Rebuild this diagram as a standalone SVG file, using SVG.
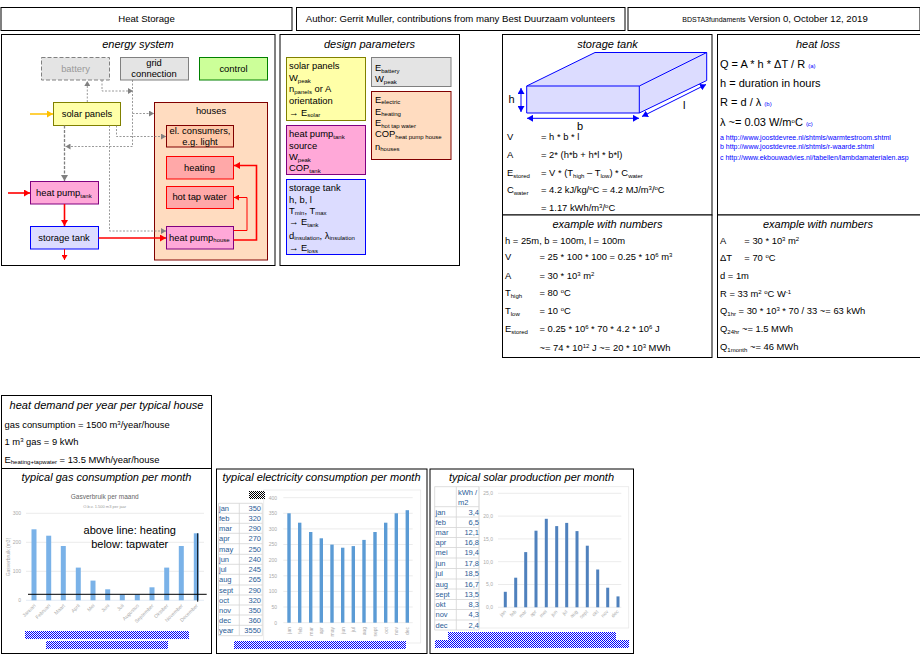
<svg xmlns="http://www.w3.org/2000/svg" width="920" height="660" viewBox="0 0 920 660">
<style>
text{font-family:"Liberation Sans",Arial,sans-serif;font-size:9.4px;fill:#000}
.c{text-anchor:middle}.r{text-anchor:end}
.t{font-style:italic;font-size:11px;text-anchor:middle}
.f{font-size:9.4px}
.big{font-size:11px}
.p{fill:#fff;stroke:#000;stroke-width:1}
.sm{font-size:6px}
.hd{font-size:9.6px;text-anchor:middle}
.yl{fill:#ffffa8;stroke:#808000}.pk{fill:#ffa8d8;stroke:#800080}.bl{fill:#dcdcff;stroke:#00f}
.or{fill:#ffdcc0;stroke:#800000}.el{fill:#ffc8a8;stroke:#800000}.rd{fill:#ffa8a8;stroke:#f00}
.gy{fill:#e4e4e4;stroke:#808080}.gn{fill:#ccff99;stroke:#008000}
.g1{fill:none;stroke:#808080;stroke-width:.8;stroke-dasharray:2 1.5}
.g2{fill:none;stroke:#808080;stroke-width:1.3;stroke-dasharray:3 1.5}
.r1{fill:none;stroke:#f00;stroke-width:1}.r2{fill:none;stroke:#f00;stroke-width:1.6}
.tb{font-size:7.5px;fill:#2b5c96}
.ax{font-size:5px;fill:#aaa}
.gr{stroke:#e6e6e6;stroke-width:.8}
.cell{fill:none;stroke:#d4d4d4;stroke-width:.8}
.link{font-size:6px;fill:#00f}
.url{font-size:7px;fill:#00f}
</style>
<defs>
<marker id="ag" markerUnits="userSpaceOnUse" markerWidth="6" markerHeight="6" refX="5" refY="3" orient="auto"><path d="M0 0L5 3L0 6Z" fill="#808080"/></marker>
<marker id="agb" markerUnits="userSpaceOnUse" markerWidth="7" markerHeight="7" refX="6" refY="3.5" orient="auto"><path d="M0 0L6 3.5L0 7Z" fill="#808080"/></marker>
<marker id="ar" markerUnits="userSpaceOnUse" markerWidth="6" markerHeight="6" refX="5" refY="3" orient="auto"><path d="M0 0L5 3L0 6Z" fill="#f00"/></marker>
<marker id="arb" markerUnits="userSpaceOnUse" markerWidth="7" markerHeight="7" refX="6" refY="3.5" orient="auto"><path d="M0 0L6 3.5L0 7Z" fill="#f00"/></marker>
<marker id="ay" markerUnits="userSpaceOnUse" markerWidth="7" markerHeight="7" refX="6" refY="3.5" orient="auto"><path d="M0 0L6 3.5L0 7Z" fill="#ffc000"/></marker>
<marker id="abs" markerUnits="userSpaceOnUse" markerWidth="7" markerHeight="7" refX="6" refY="3.5" orient="auto-start-reverse"><path d="M0 0L6 3.5L0 7Z" fill="#00f"/></marker>
<pattern id="cb" width="2" height="2" patternUnits="userSpaceOnUse"><rect width="2" height="2" fill="#fff"/><rect width="1" height="1" fill="#00f"/><rect x="1" y="1" width="1" height="1" fill="#00f"/></pattern>
<pattern id="ck" width="2" height="2" patternUnits="userSpaceOnUse"><rect width="2" height="2" fill="#fff"/><rect width="1" height="1" fill="#000"/><rect x="1" y="1" width="1" height="1" fill="#000"/></pattern>
</defs>

<g id="header">
<rect class="p" x="1" y="7.5" width="291" height="23"/><text class="hd" x="146.500" y="21.500">Heat Storage</text>
<rect class="p" x="296.500" y="7.500" width="328.500" height="23"/><text class="hd" x="460.500" y="21.500">Author: Gerrit Muller, contributions from many Best Duurzaam volunteers</text>
<rect class="p" x="628" y="7.500" width="292" height="23"/><text class="hd" x="775" y="21.500"><tspan font-size="7">BDSTA3fundaments</tspan> Version 0, October 12, 2019</text>
</g>

<g id="panel-energy">
<rect class="p" x="1.500" y="34.500" width="273.500" height="231"/><text class="t" x="138" y="48">energy system</text>
</g>
<g id="houses"><rect class="or" x="154.500" y="102.500" width="113" height="157.500"/><text class="c" x="211" y="114">houses</text></g>
<g id="battery"><rect class="gy" x="41.500" y="57.500" width="68" height="22.500" stroke-dasharray="4 2"/><text class="c" x="75.500" y="71.500" style="fill:#999">battery</text></g>
<g id="grid"><rect class="gy" x="120.500" y="57.500" width="68" height="22.500"/><text class="c" x="154" y="66">grid</text><text class="c" x="154" y="77">connection</text></g>
<g id="control"><rect class="gn" x="199.500" y="57.500" width="68" height="22.500"/><text class="c" x="233.500" y="71.500">control</text></g>
<g id="solar"><rect class="yl" x="53.500" y="102.500" width="67" height="23"/><text class="c" x="87" y="117">solar panels</text></g>
<g id="consumers"><rect class="el" x="166.500" y="125.500" width="67" height="21.500"/><text class="c" x="200" y="133.500">el. consumers,</text><text class="c" x="200" y="145">e.g. light</text></g>
<g id="heating"><rect class="rd" x="166.500" y="156.500" width="67" height="22.500"/><text class="c" x="199.500" y="170.500">heating</text></g>
<g id="hottap"><rect class="rd" x="166.500" y="186.500" width="67" height="22"/><text class="c" x="199.500" y="200">hot tap water</text></g>
<g id="hphouse"><rect class="pk" x="166.500" y="226.500" width="67" height="22.500"/><text x="169" y="240.500">heat pump<tspan class="sm" dy="1.500">house</tspan></text></g>
<g id="hptank"><rect class="pk" x="30.500" y="181.500" width="68" height="22.500"/><text x="36" y="196">heat pump<tspan class="sm" dy="1.500">tank</tspan></text></g>
<g id="storage"><rect class="bl" x="30.500" y="226.500" width="68" height="22.500"/><text class="c" x="64" y="241">storage tank</text></g>

<g id="connectors">
<path d="M30 114H53" fill="none" stroke="#ffc000" stroke-width="1.500" marker-end="url(#ay)"/>
<path class="g1" d="M87.300 102V81" marker-end="url(#ag)"/>
<path class="g1" d="M102 80V91H133" marker-end="url(#ag)"/>
<path class="g1" d="M132.500 80V146.500H65.500" marker-end="url(#ag)"/>
<path class="g1" d="M132.500 113.500H154" marker-end="url(#ag)"/>
<path class="g1" d="M116.500 125.500V136.500H166" marker-end="url(#ag)"/>
<path class="g1" d="M109.500 125.500V231H166" marker-end="url(#ag)"/>
<path class="g2" d="M64.500 125.500V181" marker-end="url(#agb)"/>
<path class="r2" d="M8 193H30" marker-end="url(#arb)"/>
<path class="r2" d="M64.500 204V226" marker-end="url(#arb)"/>
<path class="r2" d="M98.500 238H166" marker-end="url(#arb)"/>
<path class="r1" d="M64.500 249V260" marker-end="url(#ar)"/>
<path class="r1" d="M233.500 230.500H247V197.500H234" marker-end="url(#ar)"/>
<path class="r2" d="M233.500 240H256.500V165.500H234" marker-end="url(#arb)"/>
</g>

<g id="panel-design">
<rect class="p" x="280" y="34.500" width="179.500" height="231"/><text class="t" x="369.500" y="48">design parameters</text>
</g>
<g id="param-solar"><rect class="yl" x="286.500" y="57.500" width="79" height="63"/>
<text x="289" y="69">solar panels</text><text x="289" y="81">W<tspan class="sm" dy="1.500">peak</tspan></text><text x="289" y="92">n<tspan class="sm" dy="1.500">panels</tspan><tspan dy="-1.500"> or A</tspan></text><text x="289" y="103.500">orientation</text><text x="289" y="115.500">→ E<tspan class="sm" dy="1.500">solar</tspan></text></g>
<g id="param-hp"><rect class="pk" x="286.500" y="125.500" width="79" height="49"/>
<text x="289" y="137">heat pump<tspan class="sm" dy="1.500">tank</tspan></text><text x="289" y="148.500">source</text><text x="289" y="160">W<tspan class="sm" dy="1.500">peak</tspan></text><text x="289" y="171">COP<tspan class="sm" dy="1.500">tank</tspan></text></g>
<g id="param-storage"><rect class="bl" x="286.500" y="179.500" width="79" height="75"/>
<text x="289" y="191">storage tank</text><text x="289" y="202.500">h, b, l</text><text x="289" y="213.500">T<tspan class="sm" dy="1.500">min</tspan><tspan dy="-1.500">, T</tspan><tspan class="sm" dy="1.500">max</tspan></text><text x="289" y="225">→ E<tspan class="sm" dy="1.500">tank</tspan></text><text x="289" y="238.500">d<tspan class="sm" dy="1.500">insulation</tspan><tspan dy="-1.500">, λ</tspan><tspan class="sm" dy="1.500">insulation</tspan></text><text x="289" y="251">→ E<tspan class="sm" dy="1.500">loss</tspan></text></g>
<g id="param-battery"><rect class="gy" x="371.500" y="57.500" width="79.500" height="29"/>
<text x="375" y="71">E<tspan class="sm" dy="1.500">battery</tspan></text><text x="375" y="82">W<tspan class="sm" dy="1.500">peak</tspan></text></g>
<g id="param-houses"><rect class="or" x="371.500" y="91.500" width="79.500" height="68"/>
<text x="375" y="102.500">E<tspan class="sm" dy="1.500">electric</tspan></text><text x="375" y="114.500">E<tspan class="sm" dy="1.500">heating</tspan></text><text x="375" y="126">E<tspan class="sm" dy="1.500">hot tap water</tspan></text><text x="375" y="137">COP<tspan class="sm" dy="1.500">heat pump house</tspan></text><text x="375" y="149.500">n<tspan class="sm" dy="1.500">houses</tspan></text></g>

<g id="panel-tank">
<rect class="p" x="502.500" y="34.500" width="209.500" height="180.500"/><text class="t" x="607.500" y="48">storage tank</text>
<path d="M526.700 86L595 52.500H706.700V80.500L639.300 113H526.700Z" fill="#dcdcff" stroke="#00f" stroke-width="1"/>
<path d="M526.700 86H639.300L706.700 52.500M639.300 86V113" fill="none" stroke="#00f" stroke-width="1"/>
<path d="M521 88V112" stroke="#00f" stroke-width="1" marker-start="url(#abs)" marker-end="url(#abs)" fill="none"/>
<path d="M527 118.300H639" stroke="#00f" stroke-width="1" marker-start="url(#abs)" marker-end="url(#abs)" fill="none"/>
<path d="M642 116.500L706 84.500" stroke="#00f" stroke-width="1" marker-start="url(#abs)" marker-end="url(#abs)" fill="none"/>
<text class="big" x="508.500" y="103">h</text><text class="big" x="577" y="130">b</text><text class="big" x="683" y="109">l</text>
<text class="f" x="507" y="139.500">V</text><text class="f" x="541" y="139.500">= h * b * l</text>
<text class="f" x="507" y="157.500">A</text><text class="f" x="541" y="157.500">= 2* (h*b + h*l * b*l)</text>
<text class="f" x="507" y="176">E<tspan class="sm" dy="1.500">stored</tspan></text><text class="f" x="541" y="176">= V * (T<tspan class="sm" dy="1.500">high</tspan><tspan dy="-1.500"> – T</tspan><tspan class="sm" dy="1.500">low</tspan><tspan dy="-1.500">) * C</tspan><tspan class="sm" dy="1.500">water</tspan></text>
<text class="f" x="507" y="193">C<tspan class="sm" dy="1.500">water</tspan></text><text class="f" x="541" y="193">= 4.2 kJ/kg/<tspan class="sm" dy="-3">o</tspan><tspan dy="3">C = 4.2 MJ/m</tspan><tspan class="sm" dy="-3">3</tspan><tspan dy="3">/</tspan><tspan class="sm" dy="-3">o</tspan><tspan dy="3">C</tspan></text>
<text class="f" x="541" y="211">= 1.17 kWh/m<tspan class="sm" dy="-3">3</tspan><tspan dy="3">/</tspan><tspan class="sm" dy="-3">o</tspan><tspan dy="3">C</tspan></text>
</g>

<g id="panel-tank-example">
<rect class="p" x="502.500" y="215" width="209.500" height="142.500"/><text class="t" x="607.500" y="228">example with numbers</text>
<text class="f" x="505" y="243.500">h = 25m, b = 100m, l = 100m</text>
<text class="f" x="505" y="260">V</text><text class="f" x="539.500" y="260">= 25 * 100 * 100 = 0.25 * 10<tspan class="sm" dy="-3">6</tspan><tspan dy="3"> m</tspan><tspan class="sm" dy="-3">3</tspan></text>
<text class="f" x="505" y="278.500">A</text><text class="f" x="539.500" y="278.500">= 30 * 10<tspan class="sm" dy="-3">3</tspan><tspan dy="3"> m</tspan><tspan class="sm" dy="-3">2</tspan></text>
<text class="f" x="505" y="296">T<tspan class="sm" dy="1.500">high</tspan></text><text class="f" x="539.500" y="296">= 80 <tspan class="sm" dy="-3">o</tspan><tspan dy="3">C</tspan></text>
<text class="f" x="505" y="314">T<tspan class="sm" dy="1.500">low</tspan></text><text class="f" x="539.500" y="314">= 10 <tspan class="sm" dy="-3">o</tspan><tspan dy="3">C</tspan></text>
<text class="f" x="505" y="332">E<tspan class="sm" dy="1.500">stored</tspan></text><text class="f" x="539.500" y="332">= 0.25 * 10<tspan class="sm" dy="-3">6</tspan><tspan dy="3"> * 70 * 4.2 * 10</tspan><tspan class="sm" dy="-3">6</tspan><tspan dy="3"> J</tspan></text>
<text class="f" x="539.500" y="350.500">~= 74 * 10<tspan class="sm" dy="-3">12</tspan><tspan dy="3"> J ~= 20 * 10</tspan><tspan class="sm" dy="-3">3</tspan><tspan dy="3"> MWh</tspan></text>
</g>

<g id="panel-loss">
<rect class="p" x="717.500" y="34.500" width="203" height="180.500"/><text class="t" x="818" y="48">heat loss</text>
<text class="big" x="720" y="68">Q = A * h * ΔT / R <tspan class="link">(a)</tspan></text>
<text class="big" x="720" y="87">h = duration in hours</text>
<text class="big" x="720" y="106">R = d / λ <tspan class="link">(b)</tspan></text>
<text class="big" x="720" y="126">λ ~= 0.03 W/m<tspan class="sm" dy="-3">o</tspan><tspan dy="3">C </tspan><tspan class="link">(c)</tspan></text>
<text class="url" x="720" y="139.500">a http://www.joostdevree.nl/shtmls/warmtestroom.shtml</text>
<text class="url" x="720" y="149">b http://www.joostdevree.nl/shtmls/r-waarde.shtml</text>
<text class="url" x="720" y="159.500">c http://www.ekbouwadvies.nl/tabellen/lambdamaterialen.asp</text>
</g>

<g id="panel-loss-example">
<rect class="p" x="717.500" y="215" width="203" height="142.500"/><text class="t" x="818" y="228">example with numbers</text>
<text class="f" x="720" y="243.500">A</text><text class="f" x="744.300" y="243.500">= 30 * 10<tspan class="sm" dy="-3">3</tspan><tspan dy="3"> m</tspan><tspan class="sm" dy="-3">2</tspan></text>
<text class="f" x="720" y="261">ΔT</text><text class="f" x="744.300" y="261">= 70 <tspan class="sm" dy="-3">o</tspan><tspan dy="3">C</tspan></text>
<text class="f" x="720" y="279">d = 1m</text>
<text class="f" x="720" y="296.500">R = 33 m<tspan class="sm" dy="-3">2</tspan><tspan dy="3"> </tspan><tspan class="sm" dy="-3">o</tspan><tspan dy="3">C W</tspan><tspan class="sm" dy="-3">-1</tspan></text>
<text class="f" x="720" y="314">Q<tspan class="sm" dy="1.500">1hr</tspan><tspan dy="-1.500"> = 30 * 10</tspan><tspan class="sm" dy="-3">3</tspan><tspan dy="3"> * 70 / 33 ~= 63 kWh</tspan></text>
<text class="f" x="720" y="332">Q<tspan class="sm" dy="1.500">24hr</tspan><tspan dy="-1.500"> ~= 1.5 MWh</tspan></text>
<text class="f" x="720" y="350">Q<tspan class="sm" dy="1.500">1month</tspan><tspan dy="-1.500"> ~= 46 MWh</tspan></text>
</g>

<g id="panel-demand">
<rect class="p" x="1.500" y="395.500" width="210" height="73"/><text class="t" x="106.500" y="408.500">heat demand per year per typical house</text>
<text x="4.500" y="427.500">gas consumption = 1500 m<tspan class="sm" dy="-3">3</tspan><tspan dy="3">/year/house</tspan></text>
<text x="4.500" y="445">1 m<tspan class="sm" dy="-3">3</tspan><tspan dy="3"> gas = 9 kWh</tspan></text>
<text x="4.500" y="462.500">E<tspan class="sm" dy="1.500">heating+tapwater</tspan><tspan dy="-1.500"> = 13.5 MWh/year/house</tspan></text>
</g>

<g id="panel-gas">
<rect class="p" x="1.500" y="468.500" width="210" height="185"/><text class="t" x="106.500" y="481">typical gas consumption per month</text>
<text class="c" x="104.700" y="499" style="font-size:6.500px;fill:#666">Gasverbruik per maand</text>
<text class="c" x="104.700" y="507.500" style="font-size:4px;fill:#999">O.b.v. 1.500 m3 per jaar</text>
<path class="gr" d="M26 513.300H204M26 542.300H204M26 571.300H204"/><path d="M26 600.300H204" stroke="#dce6f2" stroke-width=".8"/>
<text class="ax r" x="21" y="515">300</text><text class="ax r" x="21" y="544">200</text><text class="ax r" x="21" y="573">100</text><text class="ax r" x="21" y="602">0</text>
<text class="ax c" transform="translate(10 557) rotate(-90)">Gasverbruik (m3)</text>
<g fill="#7ab2e8">
<rect x="31.500" y="529.300" width="5" height="71"/><rect x="46.200" y="535.700" width="5" height="64.600"/><rect x="60.800" y="546" width="5" height="54.300"/><rect x="75.800" y="567.600" width="5" height="32.700"/><rect x="90.500" y="580.600" width="5" height="19.700"/><rect x="105.200" y="589.300" width="5" height="11"/><rect x="119.800" y="594.500" width="5" height="5.800"/><rect x="134.800" y="594.500" width="5" height="5.800"/><rect x="149.500" y="587.300" width="5" height="13"/><rect x="164.200" y="567.600" width="5" height="32.700"/><rect x="178.800" y="546" width="5" height="54.300"/><rect x="193.800" y="533.300" width="5" height="67"/>
</g>
<g class="mon">
<text class="ax r" transform="translate(36 606) rotate(-45)">Januari</text><text class="ax r" transform="translate(50.700 606) rotate(-45)">Februari</text><text class="ax r" transform="translate(65.300 606) rotate(-45)">Maart</text><text class="ax r" transform="translate(80.300 606) rotate(-45)">April</text><text class="ax r" transform="translate(95 606) rotate(-45)">Mei</text><text class="ax r" transform="translate(109.700 606) rotate(-45)">Juni</text><text class="ax r" transform="translate(124.300 606) rotate(-45)">Juli</text><text class="ax r" transform="translate(139.300 606) rotate(-45)">Augustus</text><text class="ax r" transform="translate(154 606) rotate(-45)">September</text><text class="ax r" transform="translate(168.700 606) rotate(-45)">Oktober</text><text class="ax r" transform="translate(183.300 606) rotate(-45)">November</text><text class="ax r" transform="translate(198.300 606) rotate(-45)">December</text>
</g>
<path d="M28 594.300H206.700M197.700 533.300V601.700" stroke="#000" stroke-width="1" fill="none"/>
<text class="c" x="129.700" y="534" style="font-size:11px">above line: heating</text>
<text class="c" x="129.700" y="547.500" style="font-size:11px">below: tapwater</text>
<rect x="25" y="631" width="164" height="8" fill="url(#cb)"/><rect x="46" y="641" width="122" height="8" fill="url(#cb)"/>
</g>

<g id="panel-electricity">
<rect class="p" x="216.500" y="469" width="210.500" height="184.500"/><text class="t" x="321.500" y="481">typical electricity consumption per month</text>
<rect x="263.700" y="490" width="157" height="153" fill="none" stroke="#e8e8e8" stroke-width=".8"/>
<path class="cell" d="M218.500 503.300H262.300M218.500 513.300H262.300M218.500 523.300H262.300M218.500 533.300H262.300M218.500 543.700H262.300M218.500 554.300H262.300M218.500 564.300H262.300M218.500 574.300H262.300M218.500 585H262.300M218.500 595H262.300M218.500 605H262.300M218.500 615H262.300M218.500 625.300H262.300M218.500 635.700H262.300M218.500 503.300V635.700M239.300 503.300V635.700M262.300 503.300V635.700"/>
<g id="elec-table">
<text class="tb" x="219" y="511">jan</text><text class="tb r" x="261" y="511">350</text>
<text class="tb" x="219" y="521">feb</text><text class="tb r" x="261" y="521">320</text>
<text class="tb" x="219" y="531">mar</text><text class="tb r" x="261" y="531">290</text>
<text class="tb" x="219" y="541">apr</text><text class="tb r" x="261" y="541">270</text>
<text class="tb" x="219" y="551.500">may</text><text class="tb r" x="261" y="551.500">250</text>
<text class="tb" x="219" y="562">jun</text><text class="tb r" x="261" y="562">240</text>
<text class="tb" x="219" y="572">jul</text><text class="tb r" x="261" y="572">245</text>
<text class="tb" x="219" y="582">aug</text><text class="tb r" x="261" y="582">265</text>
<text class="tb" x="219" y="592.500">sept</text><text class="tb r" x="261" y="592.500">290</text>
<text class="tb" x="219" y="602.500">oct</text><text class="tb r" x="261" y="602.500">320</text>
<text class="tb" x="219" y="612.500">nov</text><text class="tb r" x="261" y="612.500">350</text>
<text class="tb" x="219" y="622.500">dec</text><text class="tb r" x="261" y="622.500">360</text>
<text class="tb" x="219" y="633">year</text><text class="tb r" x="261" y="633">3550</text>
</g>
<path class="gr" d="M283.300 497.700H412.700M283.300 513.300H412.700M283.300 528.900H412.700M283.300 544.500H412.700M283.300 560.200H412.700M283.300 575.800H412.700M283.300 591.400H412.700M283.300 607H412.700M283.300 622.700H412.700"/>
<text class="ax r" x="277" y="499.500">400</text><text class="ax r" x="277" y="515">350</text><text class="ax r" x="277" y="530.500">300</text><text class="ax r" x="277" y="546">250</text><text class="ax r" x="277" y="562">200</text><text class="ax r" x="277" y="577.500">150</text><text class="ax r" x="277" y="593">100</text><text class="ax r" x="277" y="609">50</text><text class="ax r" x="277" y="624.500">0</text>
<g fill="#5b9bd5">
<rect x="287.300" y="513.300" width="3.400" height="109.400"/><rect x="298" y="522.700" width="3.400" height="100"/><rect x="309" y="532" width="3.400" height="90.700"/><rect x="319.600" y="538.300" width="3.400" height="84.400"/><rect x="330.300" y="544.600" width="3.400" height="78.100"/><rect x="341" y="547.700" width="3.400" height="75"/><rect x="351.600" y="546.100" width="3.400" height="76.600"/><rect x="362.300" y="539.900" width="3.400" height="82.800"/><rect x="373.300" y="532" width="3.400" height="90.700"/><rect x="384" y="522.700" width="3.400" height="100"/><rect x="394.600" y="513.300" width="3.400" height="109.400"/><rect x="405.600" y="510.200" width="3.400" height="112.500"/>
</g>
<g>
<text class="ax r" transform="translate(291 627) rotate(-90)">jan</text><text class="ax r" transform="translate(301.700 627) rotate(-90)">feb</text><text class="ax r" transform="translate(312.700 627) rotate(-90)">mar</text><text class="ax r" transform="translate(323.300 627) rotate(-90)">apr</text><text class="ax r" transform="translate(334 627) rotate(-90)">may</text><text class="ax r" transform="translate(344.700 627) rotate(-90)">jun</text><text class="ax r" transform="translate(355.300 627) rotate(-90)">jul</text><text class="ax r" transform="translate(366 627) rotate(-90)">aug</text><text class="ax r" transform="translate(377 627) rotate(-90)">sept</text><text class="ax r" transform="translate(387.700 627) rotate(-90)">oct</text><text class="ax r" transform="translate(398.300 627) rotate(-90)">nov</text><text class="ax r" transform="translate(409.300 627) rotate(-90)">dec</text>
</g>
<rect x="249" y="491" width="16" height="8" fill="url(#ck)"/>
<rect x="234" y="641" width="172" height="8" fill="url(#cb)"/>
</g>

<g id="panel-solar">
<rect class="p" x="430" y="469" width="203.500" height="184.500"/><text class="t" x="531.500" y="481">typical solar production per month</text>
<rect x="479" y="486.700" width="149.700" height="141.300" fill="none" stroke="#e8e8e8" stroke-width=".8"/>
<path class="cell" d="M434.700 486.700H479M434.700 506.700H479M434.700 517H479M434.700 527.500H479M434.700 537.500H479M434.700 547.500H479M434.700 558H479M434.700 568.500H479M434.700 579H479M434.700 589H479M434.700 599.500H479M434.700 609.500H479M434.700 620H479M434.700 630H479M434.700 486.700V630M456.300 486.700V630M479 486.700V630"/>
<g id="solar-table">
<text class="tb" x="458" y="494.500">kWh /</text><text class="tb" x="458" y="504.500">m2</text>
<text class="tb" x="435.500" y="514.500">jan</text><text class="tb r" x="479" y="514.500">3,4</text>
<text class="tb" x="435.500" y="525">feb</text><text class="tb r" x="479" y="525">6,5</text>
<text class="tb" x="435.500" y="535">mar</text><text class="tb r" x="479" y="535">12,1</text>
<text class="tb" x="435.500" y="545">apr</text><text class="tb r" x="479" y="545">16,8</text>
<text class="tb" x="435.500" y="555">mei</text><text class="tb r" x="479" y="555">19,4</text>
<text class="tb" x="435.500" y="566">jun</text><text class="tb r" x="479" y="566">17,8</text>
<text class="tb" x="435.500" y="576">jul</text><text class="tb r" x="479" y="576">18,5</text>
<text class="tb" x="435.500" y="586.500">aug</text><text class="tb r" x="479" y="586.500">16,7</text>
<text class="tb" x="435.500" y="596.500">sept</text><text class="tb r" x="479" y="596.500">13,5</text>
<text class="tb" x="435.500" y="607">okt</text><text class="tb r" x="479" y="607">8,3</text>
<text class="tb" x="435.500" y="617">nov</text><text class="tb r" x="479" y="617">4,3</text>
<text class="tb" x="435.500" y="627.500">dec</text><text class="tb r" x="479" y="627.500">2,4</text>
</g>
<path class="gr" d="M498 493.300H621.300M498 516.100H621.300M498 538.900H621.300M498 561.700H621.300M498 584.500H621.300M498 607.300H621.300"/>
<text class="ax r" x="493" y="495">25,0</text><text class="ax r" x="493" y="518">20,0</text><text class="ax r" x="493" y="540.500">15,0</text><text class="ax r" x="493" y="563.500">10,0</text><text class="ax r" x="493" y="586">5,0</text><text class="ax r" x="493" y="609">0,0</text>
<g fill="#4f81bd">
<rect x="503.800" y="591.800" width="3" height="15.500"/><rect x="514.200" y="577.700" width="3" height="29.600"/><rect x="524.200" y="552.100" width="3" height="55.200"/><rect x="534.500" y="530.700" width="3" height="76.600"/><rect x="544.800" y="518.800" width="3" height="88.500"/><rect x="555.200" y="526.100" width="3" height="81.200"/><rect x="565.200" y="522.900" width="3" height="84.400"/><rect x="575.500" y="531.100" width="3" height="76.200"/><rect x="585.800" y="545.700" width="3" height="61.600"/><rect x="596.200" y="569.500" width="3" height="37.800"/><rect x="606.200" y="587.700" width="3" height="19.600"/><rect x="616.500" y="596.400" width="3" height="10.900"/>
</g>
<g>
<text class="ax r" transform="translate(506.500 612) rotate(-45)">jan</text><text class="ax r" transform="translate(516.700 612) rotate(-45)">feb</text><text class="ax r" transform="translate(527 612) rotate(-45)">mar</text><text class="ax r" transform="translate(537 612) rotate(-45)">apr</text><text class="ax r" transform="translate(547.300 612) rotate(-45)">mei</text><text class="ax r" transform="translate(557.700 612) rotate(-45)">jun</text><text class="ax r" transform="translate(567.700 612) rotate(-45)">jul</text><text class="ax r" transform="translate(578 612) rotate(-45)">aug</text><text class="ax r" transform="translate(588.300 612) rotate(-45)">sept</text><text class="ax r" transform="translate(598.700 612) rotate(-45)">okt</text><text class="ax r" transform="translate(608.700 612) rotate(-45)">nov</text><text class="ax r" transform="translate(619 612) rotate(-45)">dec</text>
</g>
<rect x="448" y="632" width="168" height="8" fill="url(#cb)"/>
<rect x="435" y="640" width="194" height="8" fill="url(#cb)"/>
</g>
</svg>
